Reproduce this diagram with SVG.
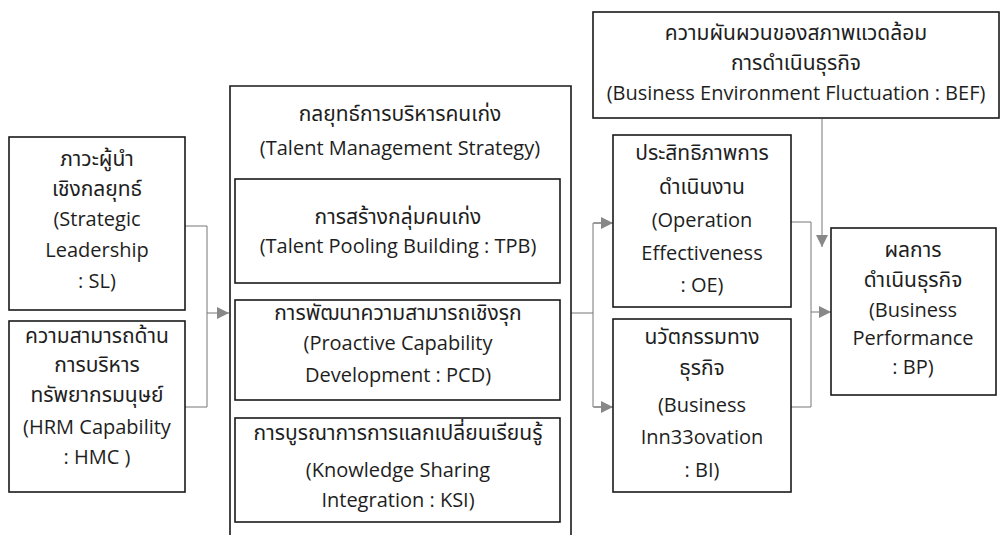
<svg xmlns="http://www.w3.org/2000/svg" width="1000" height="535" viewBox="0 0 1000 535">
<style>
.box{fill:#fff;stroke:#1a1a1a;stroke-width:1.6}
.open{fill:none;stroke:#1a1a1a;stroke-width:1.6}
.t{font-family:"Open Sans","Noto Sans Thai","Noto Sans",sans-serif;font-size:20px;fill:#1e1e1e;text-anchor:middle}
.th{font-family:"Open Sans","Noto Sans Thai","Noto Sans",sans-serif;font-size:21px;fill:#1e1e1e;text-anchor:middle}
.c{fill:none;stroke:#777;stroke-width:1}
</style>
<defs>
<marker id="ah" markerWidth="12" markerHeight="12" refX="10" refY="5" orient="auto" markerUnits="userSpaceOnUse" viewBox="0 0 10 10">
<path d="M0,0 L10,5 L0,10 z" fill="#888"/>
</marker>
</defs>
<rect width="1000" height="535" fill="#fff"/>
<g id="connectors">
<polyline class="c" points="185,226 207,226 207,407 185,407"/>
<line class="c" x1="207" y1="313" x2="229" y2="313" marker-end="url(#ah)"/>
<line class="c" x1="571" y1="313" x2="593" y2="313"/>
<polyline class="c" points="612,223 593,223 593,407 612,407"/>
<line class="c" x1="594" y1="223" x2="613" y2="223" marker-end="url(#ah)"/>
<line class="c" x1="594" y1="407" x2="613" y2="407" marker-end="url(#ah)"/>
<polyline class="c" points="791,222 811,222 811,407 791,407"/>
<line class="c" x1="811" y1="312" x2="831" y2="312" marker-end="url(#ah)"/>
<line class="c" x1="822" y1="119" x2="822" y2="247" marker-end="url(#ah)"/>
</g>
<g id="sl">
<rect class="box" x="9" y="137" width="176" height="173"/>
<text class="th" x="97" y="166">ภาวะผู้นำ</text>
<text class="th" x="97" y="196">เชิงกลยุทธ์</text>
<text class="t" x="97" y="226">(Strategic</text>
<text class="t" x="97" y="257">Leadership</text>
<text class="t" x="97" y="288">: SL)</text>
</g>
<g id="hmc">
<rect class="box" x="9" y="321" width="176" height="171"/>
<text class="th" x="97" y="343">ความสามารถด้าน</text>
<text class="th" x="97" y="372">การบริหาร</text>
<text class="th" x="97" y="402">ทรัพยากรมนุษย์</text>
<text class="t" x="97" y="434">(HRM Capability</text>
<text class="t" x="97" y="464">: HMC )</text>
</g>
<g id="tms">
<path class="open" d="M230,536 V86 H571 V536"/>
<text class="th" x="400" y="121">กลยุทธ์การบริหารคนเก่ง</text>
<text class="t" x="400" y="155">(Talent Management Strategy)</text>
</g>
<g id="tpb">
<rect class="box" x="235" y="179" width="325" height="104"/>
<text class="th" x="398" y="224">การสร้างกลุ่มคนเก่ง</text>
<text class="t" x="398" y="253">(Talent Pooling Building : TPB)</text>
</g>
<g id="pcd">
<rect class="box" x="235" y="300" width="325" height="100"/>
<text class="th" x="398" y="320">การพัฒนาความสามารถเชิงรุก</text>
<text class="t" x="398" y="350">(Proactive Capability</text>
<text class="t" x="398" y="382">Development : PCD)</text>
</g>
<g id="ksi">
<rect class="box" x="235" y="418" width="325" height="104"/>
<text class="th" x="398" y="440">การบูรณาการการแลกเปลี่ยนเรียนรู้</text>
<text class="t" x="398" y="477">(Knowledge Sharing</text>
<text class="t" x="398" y="507">Integration : KSI)</text>
</g>
<g id="bef">
<rect class="box" x="593" y="12" width="406" height="106"/>
<text class="th" x="796" y="40">ความผันผวนของสภาพแวดล้อม</text>
<text class="th" x="796" y="70">การดำเนินธุรกิจ</text>
<text class="t" x="796" y="100">(Business Environment Fluctuation : BEF)</text>
</g>
<g id="oe">
<rect class="box" x="613" y="135" width="178" height="172"/>
<text class="th" x="702" y="160">ประสิทธิภาพการ</text>
<text class="th" x="702" y="194">ดำเนินงาน</text>
<text class="t" x="702" y="227">(Operation</text>
<text class="t" x="702" y="260">Effectiveness</text>
<text class="t" x="702" y="292">: OE)</text>
</g>
<g id="bi">
<rect class="box" x="613" y="319" width="178" height="173"/>
<text class="th" x="702" y="344">นวัตกรรมทาง</text>
<text class="th" x="702" y="375">ธุรกิจ</text>
<text class="t" x="702" y="412">(Business</text>
<text class="t" x="702" y="444">Inn33ovation</text>
<text class="t" x="702" y="477">: BI)</text>
</g>
<g id="bp">
<rect class="box" x="831" y="228" width="165" height="167"/>
<text class="th" x="913" y="257">ผลการ</text>
<text class="th" x="913" y="287">ดำเนินธุรกิจ</text>
<text class="t" x="913" y="317">(Business</text>
<text class="t" x="913" y="345">Performance</text>
<text class="t" x="913" y="374">: BP)</text>
</g>
</svg>
